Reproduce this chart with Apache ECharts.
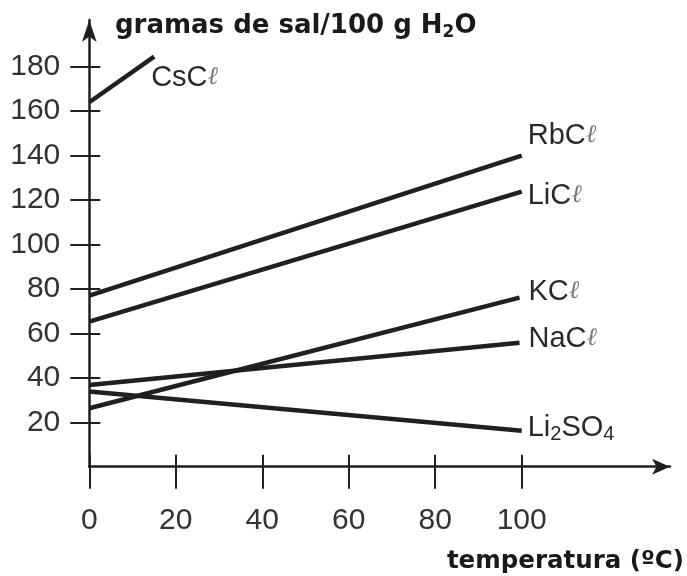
<!DOCTYPE html>
<html><head><meta charset="utf-8">
<script src="https://cdn.jsdelivr.net/npm/echarts@6/dist/echarts.min.js"></script>
<style>html,body{margin:0;padding:0;background:#fff}#c{width:687px;height:576px}</style>
</head><body><div id="c"></div>
<script>
// ---- data ----
const csclTemps = [0, 15];
const csclValues = [164, 184.5];
const rbclTemps = [0, 100];
const rbclValues = [77, 140];
const liclTemps = [0, 100];
const liclValues = [65.3, 123.8];
const kclTemps = [0, 99.5];
const kclValues = [26.3, 76.1];
const naclTemps = [0, 99.5];
const naclValues = [36.8, 55.8];
const li2so4Temps = [0, 100];
const li2so4Values = [33.8, 16.2];
const xTickValues = [0, 20, 40, 60, 80, 100];
const yTickValues = [20, 40, 60, 80, 100, 120, 140, 160, 180];
const yTitle = 'gramas de sal/100 g H';
const xTitle = 'temperatura (ºC)';

const INK = '#231f20';
const LBL_FONT = 'Liberation Sans';
const TITLE_FONT = 'DejaVu Sans';
const X_MAX = 134.3;
const Y_MAX = 201;

const labelRich = {
  t: {fontFamily: LBL_FONT, fontSize: 29, color: '#2a2a2a', lineHeight: 34},
  l: {fontFamily: 'DejaVu Serif', fontSize: 25, color: '#777', lineHeight: 34, fontStyle: 'italic'},
  s: {fontFamily: LBL_FONT, fontSize: 20, color: '#2a2a2a', lineHeight: 16, verticalAlign: 'bottom'}
};

function saltSeries(name, xs, ys, text, offset) {
  const n = xs.length - 1;
  return {
    type: 'line', name: name, silent: true, symbol: 'none',
    data: xs.map((x, i) => [x, ys[i]]),
    lineStyle: {color: INK, width: 4.5, cap: 'butt'},
    markPoint: {
      silent: true, symbol: 'circle', symbolSize: 0,
      itemStyle: {color: 'transparent'},
      data: [{coord: [xs[n], ys[n]]}],
      label: {show: true, position: 'right', distance: 0, offset: offset,
        formatter: text, rich: labelRich}
    }
  };
}

const chart = echarts.init(document.getElementById('c'), null, {renderer: 'canvas'});
chart.setOption({
  animation: false,
  backgroundColor: '#fff',
  title: [
    {text: '{b|' + yTitle + '}{s|2}{b|O}', left: 115, top: 11, padding: 0,
      textStyle: {rich: {
        b: {fontFamily: TITLE_FONT, fontWeight: 'bold', fontSize: 26, color: '#1a1a1a', lineHeight: 30},
        s: {fontFamily: TITLE_FONT, fontWeight: 'bold', fontSize: 17, color: '#1a1a1a', lineHeight: 14, verticalAlign: 'bottom'}
      }}},
    {text: xTitle, right: 3, top: 547, padding: 0,
      textStyle: {fontFamily: TITLE_FONT, fontWeight: 'bold', fontSize: 24.5, color: '#1a1a1a', lineHeight: 30}}
  ],
  grid: {left: 89.3, right: 17, top: 20, bottom: 109.3, containLabel: false},
  xAxis: [
    {type: 'value', min: 0, max: X_MAX, position: 'bottom',
      splitLine: {show: false},
      axisLine: {show: true, onZero: false, lineStyle: {color: INK, width: 2.5},
        symbol: ['none', 'arrow'], symbolSize: [12, 18]},
      axisTick: {show: true, inside: false, length: 22, customValues: xTickValues,
        lineStyle: {color: INK, width: 2}},
      axisLabel: {show: true, customValues: xTickValues, margin: 39,
        fontFamily: LBL_FONT, fontSize: 30, lineHeight: 30, color: '#333'}},
    {type: 'value', min: 0, max: X_MAX, position: 'bottom',
      splitLine: {show: false},
      axisLine: {show: false, onZero: false},
      axisTick: {show: true, inside: true, length: 12, customValues: xTickValues,
        lineStyle: {color: INK, width: 2}},
      axisLabel: {show: false}}
  ],
  yAxis: [
    {type: 'value', min: 0, max: Y_MAX, position: 'left',
      splitLine: {show: false},
      axisLine: {show: true, onZero: false, lineStyle: {color: INK, width: 2.5},
        symbol: ['none', 'arrow'], symbolSize: [11, 22]},
      axisTick: {show: true, inside: false, length: 19, customValues: yTickValues,
        lineStyle: {color: INK, width: 2}},
      axisLabel: {show: true, customValues: yTickValues, margin: 29,
        fontFamily: LBL_FONT, fontSize: 30, color: '#333'}},
    {type: 'value', min: 0, max: Y_MAX, position: 'left',
      splitLine: {show: false},
      axisLine: {show: false, onZero: false},
      axisTick: {show: true, inside: true, length: 11, customValues: yTickValues,
        lineStyle: {color: INK, width: 2}},
      axisLabel: {show: false}}
  ],
  series: [
    saltSeries('CsCl', csclTemps, csclValues, '{t|CsC}{l|ℓ}', [-3, 21]),
    saltSeries('RbCl', rbclTemps, rbclValues, '{t|RbC}{l|ℓ}', [6, -20]),
    saltSeries('LiCl', liclTemps, liclValues, '{t|LiC}{l|ℓ}', [6, 4]),
    saltSeries('KCl', kclTemps, kclValues, '{t|KC}{l|ℓ}', [9, -6]),
    saltSeries('NaCl', naclTemps, naclValues, '{t|NaC}{l|ℓ}', [9, -4]),
    saltSeries('Li2SO4', li2so4Temps, li2so4Values, '{t|Li}{s|2}{t|SO}{s|4}', [6, -3])
  ]
});
</script></body></html>
